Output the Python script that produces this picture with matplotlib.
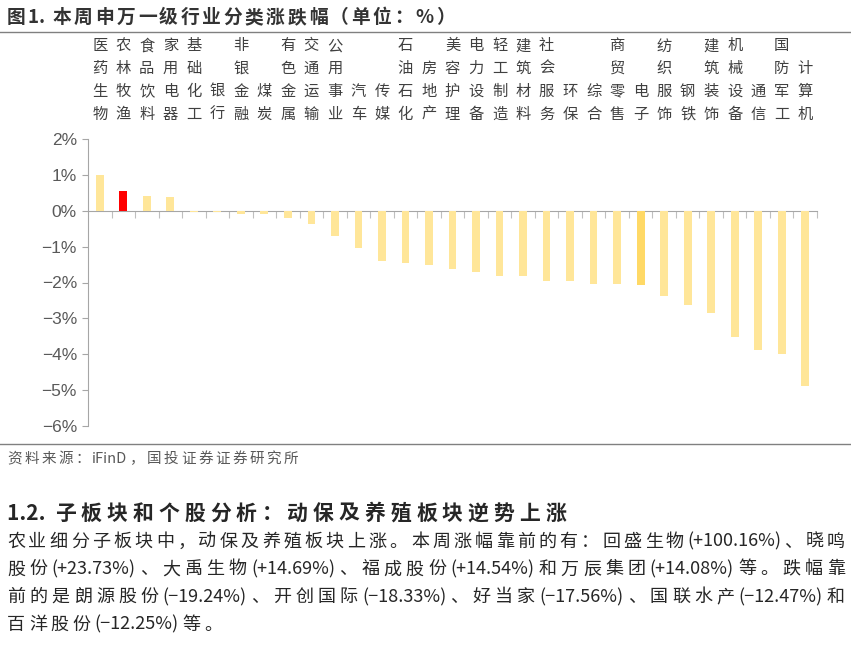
import matplotlib
matplotlib.use('Agg')
from matplotlib import pyplot as plt
from matplotlib import transforms

plt.rcParams['font.family'] = ['Noto Sans CJK SC', 'DejaVu Sans']

# 申万一级行业 本周涨跌幅 (%)
industries = ['医药生物', '农林牧渔', '食品饮料', '家用电器', '基础化工', '银行', '非银金融',
              '煤炭', '有色金属', '交通运输', '公用事业', '汽车', '传媒', '石油石化', '房地产',
              '美容护理', '电力设备', '轻工制造', '建筑材料', '社会服务', '环保', '综合',
              '商贸零售', '电子', '纺织服饰', '钢铁', '建筑装饰', '机械设备', '通信', '国防军工',
              '计算机']
changes = [1.00, 0.56, 0.42, 0.37, -0.04, -0.04, -0.08, -0.08, -0.20, -0.38, -0.71, -1.04,
           -1.39, -1.46, -1.50, -1.63, -1.71, -1.83, -1.83, -1.96, -1.96, -2.05, -2.05, -2.07,
           -2.38, -2.63, -2.84, -3.51, -3.88, -4.00, -4.88]
highlight = {'农林牧渔': '#FF0000', '电子': '#FFD966'}
yticks = [2, 1, 0, -1, -2, -3, -4, -5, -6]

title = '图1. 本周申万一级行业分类涨跌幅（单位：%）'
source = '资料来源：iFinD，国投证券证券研究所'
heading = '1.2. 子板块和个股分析：动保及养殖板块逆势上涨'
para = ['农业细分子板块中，动保及养殖板块上涨。本周涨幅靠前的有：回盛生物(+100.16%)、晓鸣',
        '股份(+23.73%)、大禹生物(+14.69%)、福成股份(+14.54%)和万辰集团(+14.08%)等。跌幅靠',
        '前的是朗源股份(−19.24%)、开创国际(−18.33%)、好当家(−17.56%)、国联水产(−12.47%)和',
        '百洋股份(−12.25%)等。']

W, H = 851, 648
fig = plt.figure(figsize=(W / 100, H / 100), dpi=100)
renderer = fig.canvas.get_renderer()


def is_latin(ch):
    return ord(ch) < 0x2000 or ch == '−'


def tokens(s):
    # single CJK chars, runs of latin/digits kept together
    out = []
    for ch in s:
        if is_latin(ch) and out and is_latin(out[-1][-1]):
            out[-1] += ch
        else:
            out.append(ch)
    return out


def tracked(x0, yc, s, size, x1=None, track=0.0, **kw):
    # letter-spaced text, optionally stretched to end at x1 (pixels)
    parts = tokens(s)
    widths = []
    for p in parts:
        t = fig.text(0, 0, p, fontsize=size, **kw)
        widths.append(t.get_window_extent(renderer).width)
        t.remove()
    if x1 is not None:
        track = (x1 - x0 - sum(widths)) / (len(parts) - 1)
    base = yc + 0.38 * size * 100 / 72
    x = x0
    for p, w in zip(parts, widths):
        fig.text(x / W, 1 - base / H, p, fontsize=size, ha='left', va='baseline', **kw)
        x += w + track
    return track


ax = fig.add_axes([88 / W, 1 - 426 / H, (817 - 88) / W, (426 - 139) / H])

x = list(range(len(industries)))
colors = [highlight.get(n, '#FFE699') for n in industries]
ax.bar(x, changes, width=0.33, color=colors, zorder=3)

ax.set_xlim(-0.5, len(industries) - 0.5)
ax.set_ylim(-6, 2)
ax.set_yticks(yticks)
ax.set_yticklabels([('−' if v < 0 else '') + '%d%%' % abs(v) for v in yticks],
                   family=['Liberation Sans', 'DejaVu Sans'], fontsize=12.5, color='#595959')
ax.tick_params(axis='y', length=4, color='#A6A6A6', pad=4)

# category boundaries as ticks hanging from the zero line
ax.spines['bottom'].set_position(('data', 0))
ax.set_xticks([i + 0.5 for i in x])
ax.set_xticklabels([])
ax.tick_params(axis='x', length=5, color='#BFBFBF', direction='out')
for s in ['top', 'right']:
    ax.spines[s].set_visible(False)
ax.spines['left'].set_color('#A6A6A6')
ax.spines['bottom'].set_color('#A6A6A6')

# vertical category labels, one char per row, bottom aligned
tr = transforms.blended_transform_factory(ax.transData, fig.transFigure)
row_h = 22.7 / H
bottom_row = 1 - 114 / H
for i, name in enumerate(industries):
    for k, ch in enumerate(reversed(name)):
        ax.text(i, bottom_row + k * row_h, ch, transform=tr, ha='center', va='center',
                fontsize=11, color='#404040')

# page elements around the chart
tracked(7, 16, title, 13.5, x1=455, fontweight='bold', color='#333333')
fig.add_artist(plt.Line2D([0, 1], [1 - 32 / H] * 2, color='#808080', lw=1))
fig.add_artist(plt.Line2D([0, 1], [1 - 444 / H] * 2, color='#808080', lw=1))
tracked(7, 457, source, 10.5, x1=298, color='#595959')
tracked(7, 512, heading, 15, x1=566, fontweight='bold', color='#262626')
tr_sum = 0
for j, line in enumerate(para[:3]):
    tr_sum += tracked(7, 540 + j * 27.6, line, 13, x1=845, color='#262626')
tracked(7, 540 + 3 * 27.6, para[3], 13, track=tr_sum / 3, color='#262626')

fig.savefig('out.png', dpi=100)
